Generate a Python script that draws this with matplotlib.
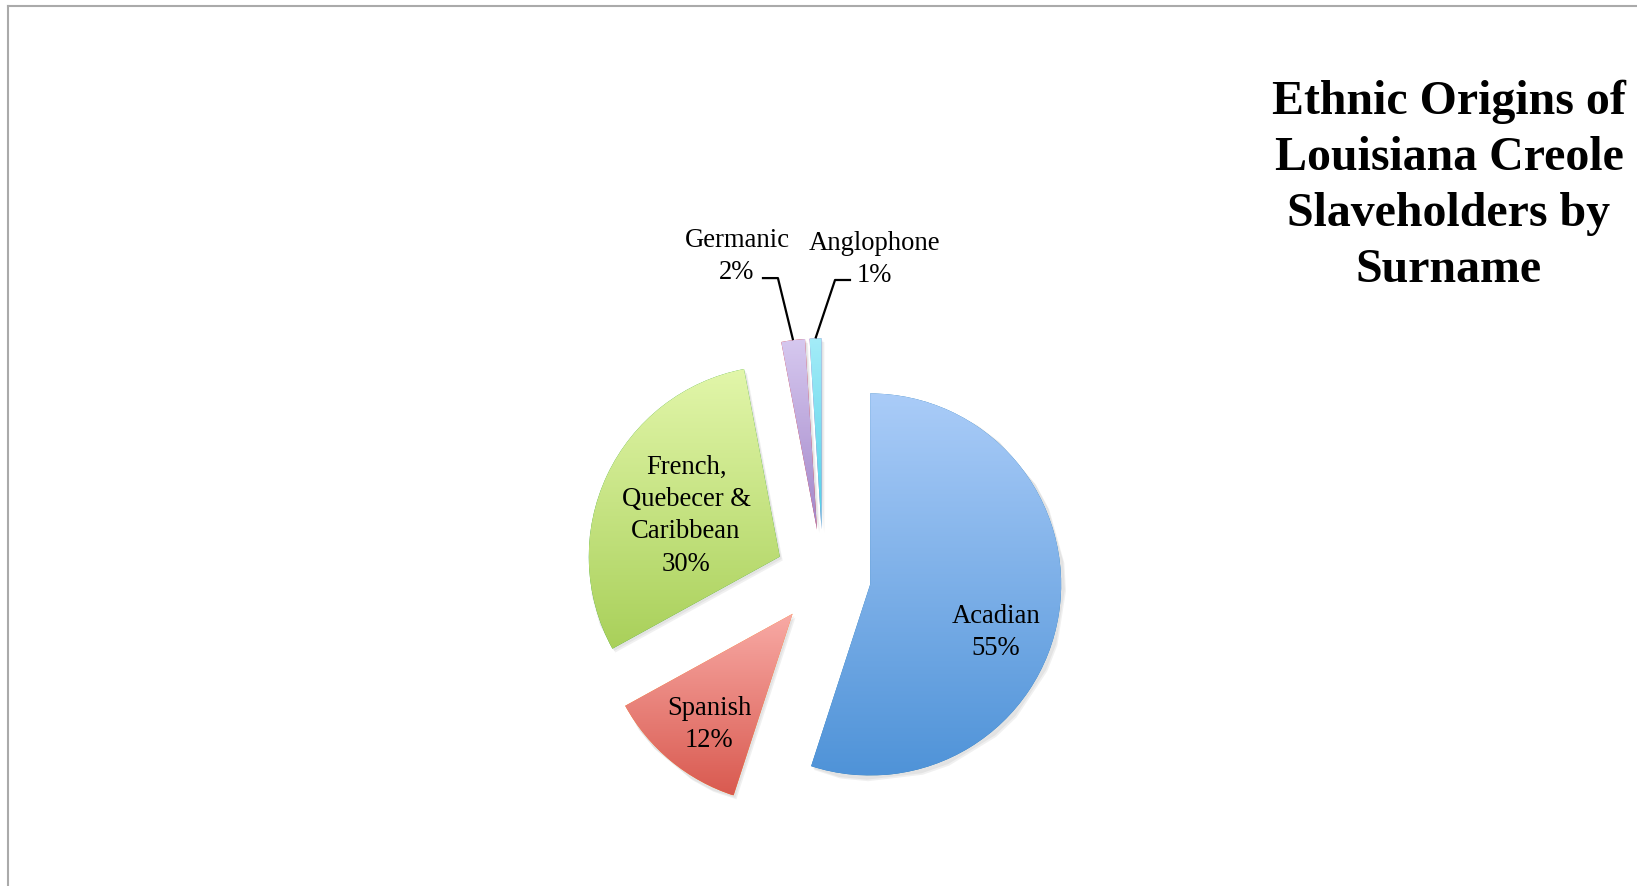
import numpy as np
import matplotlib.pyplot as plt
from matplotlib.colors import to_rgb

# data
labels = ['Acadian', 'Spanish', 'French,\nQuebecer &\nCaribbean', 'Germanic', 'Anglophone']
values = [55, 12, 30, 2, 1]
top_colors = ['#aaccf8', '#f8aaa5', '#e2f6aa', '#d6c8ef', '#a4ecf8']
bottom_colors = ['#4f93d8', '#d95a50', '#a9d05a', '#a285c8', '#4fcfe6']

W, H = 1637, 886
R = 191.0            # pie radius in px
cx, cy = 823, 577    # pie centre in px, from top left

fig = plt.figure(figsize=(W / 100, H / 100), dpi=100)
ax = fig.add_axes([0, 0, 1, 1])

wedges, _ = ax.pie(values, explode=[0.25] * len(values), startangle=90,
                   counterclock=False, radius=1,
                   wedgeprops=dict(edgecolor='none', linewidth=0))

# soft shadow + vertical gradient fill clipped to each wedge
for w, c0, c1 in zip(wedges, top_colors, bottom_colors):
    for k, a in [(1.0, 0.12), (0.6, 0.12)]:
        sh = plt.Polygon(w.get_path().vertices + np.array([0.015, -0.02]) * k,
                         closed=True, fc='#888888', ec='none', alpha=a, zorder=1)
        ax.add_patch(sh)
    ext = w.get_path().get_extents()
    t = np.linspace(0, 1, 256)[:, None]
    grad = np.array(to_rgb(c1)) * (1 - t[..., None]) + np.array(to_rgb(c0)) * t[..., None]
    im = ax.imshow(grad, extent=[ext.x0, ext.x1, ext.y0, ext.y1], origin='lower',
                   aspect='auto', interpolation='bilinear', zorder=2)
    im.set_clip_path(w)
    w.set_zorder(1.5)

# label positions in data units (radius = 1)
lab_pos = [(0.906, -0.291), (-0.597, -0.773), (-0.717, 0.320),
           (-0.450, 1.680), (0.267, 1.664)]
for lab, v, (x, y) in zip(labels, values, lab_pos):
    ax.text(x, y, '%s\n%d%%' % (lab, v), ha='center', va='center',
            fontsize=19.2, family='Liberation Serif', linespacing=1.38, zorder=5)

# leader lines for the two thin slices
elbows = {3: [(-0.320, 1.565), (-0.236, 1.565)],
          4: [(0.147, 1.555), (0.063, 1.555)]}
for i, pts in elbows.items():
    w = wedges[i]
    mid = np.deg2rad((w.theta1 + w.theta2) / 2)
    ex = w.center[0] + w.r * np.cos(mid)
    ey = w.center[1] + w.r * np.sin(mid)
    xs = [p[0] for p in pts] + [ex]
    ys = [p[1] for p in pts] + [ey]
    ax.plot(xs, ys, color='black', lw=1.6, zorder=4, solid_capstyle='butt')

ax.set_xlim(-cx / R, (W - cx) / R)
ax.set_ylim(-(H - cy) / R, cy / R)
ax.set_aspect('equal')
ax.axis('off')

fig.text(1449 / W, 1 - 186 / H, 'Ethnic Origins of\nLouisiana Creole\nSlaveholders by\nSurname',
         ha='center', va='center', fontsize=34.5, fontweight='bold',
         family='Liberation Serif', linespacing=1.35)

# thin grey frame at the top and left edges
fig.add_artist(plt.Line2D([7.5 / W, 1], [1 - 5.5 / H, 1 - 5.5 / H], color='#aaaaaa', lw=1.5))
fig.add_artist(plt.Line2D([7.5 / W, 7.5 / W], [0, 1 - 5.5 / H], color='#aaaaaa', lw=1.5))

fig.savefig('out.png', dpi=100)
